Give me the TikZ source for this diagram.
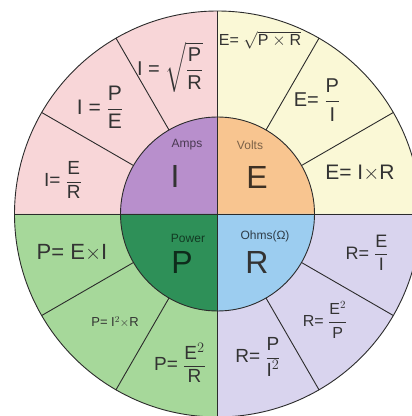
\documentclass[tikz,border=0pt]{standalone}
\usepackage{amsmath}
\usepackage{fontspec}
\setmainfont{Liberation Sans}
\usetikzlibrary{calc}
\definecolor{ampsout}{HTML}{F8D6D8}
\definecolor{ampsin}{HTML}{B88FCC}
\definecolor{voltsout}{HTML}{FAF8D6}
\definecolor{voltsin}{HTML}{F8C590}
\definecolor{powerout}{HTML}{A6D89A}
\definecolor{powerin}{HTML}{2E9058}
\definecolor{ohmsout}{HTML}{D9D4EE}
\definecolor{ohmsin}{HTML}{9CCDF0}
\definecolor{rim}{HTML}{2B2B2B}
\definecolor{ink}{HTML}{333333}
\newcommand{\ohmfrac}[2]{$\dfrac{\text{#1}}{\text{#2}}$}
\tikzset{
  big/.style={font=\fontsize{32}{34}\selectfont, text=ink},
  unitlabel/.style={font=\fontsize{12}{13}\selectfont},
  formula/.style={font=\fontsize{#1}{#1}\selectfont, text=ink, inner sep=0pt}
}

\begin{document}
\begin{tikzpicture}[x=1pt,y=1pt]
\useasboundingbox (0,0) rectangle (412,416);
\fill[white] (0,0) rectangle (412,416);
\coordinate (O) at (217.5,202);
% outer quarters
\fill[ampsout] (O) -- ++(180:203pt) arc[start angle=180,end angle=90,radius=203pt] -- cycle;
\fill[voltsout] (O) -- ++(90:203pt) arc[start angle=90,end angle=0,radius=203pt] -- cycle;
\fill[powerout] (O) -- ++(270:203pt) arc[start angle=270,end angle=180,radius=203pt] -- cycle;
\fill[ohmsout] (O) -- ++(0:203pt) arc[start angle=0,end angle=-90,radius=203pt] -- cycle;
% inner quarters
\fill[ampsin] (O) -- ++(180:97pt) arc[start angle=180,end angle=90,radius=97pt] -- cycle;
\fill[voltsin] (O) -- ++(90:97pt) arc[start angle=90,end angle=0,radius=97pt] -- cycle;
\fill[powerin] (O) -- ++(270:97pt) arc[start angle=270,end angle=180,radius=97pt] -- cycle;
\fill[ohmsin] (O) -- ++(0:97pt) arc[start angle=0,end angle=-90,radius=97pt] -- cycle;
% dividers
\foreach \a in {30,60,120,150,210,240,300,330}
  \draw[rim, line width=0.9pt] ($(O)+(\a:97pt)$) -- ($(O)+(\a:203pt)$);
\draw[rim, line width=0.9pt] ($(O)+(-203pt,0)$) -- ($(O)+(203pt,0)$);
\draw[rim, line width=0.9pt] ($(O)+(0,-203pt)$) -- ($(O)+(0,203pt)$);
\draw[rim, line width=0.9pt] (O) circle[radius=97pt];
\draw[rim, line width=0.9pt] (O) circle[radius=203pt];
% centre
\node[unitlabel, text=ampsin!40!black] (amps) at (187,271) {Amps};
\node[big] (bigI) at (175,240) {I};
\node[unitlabel, text=voltsin!50!black] (volts) at (250,271) {Volts};
\node[big, text=voltsin!25!black] (bigE) at (257,239) {E};
\node[unitlabel, text=powerin!40!black] (power) at (188,178) {Power};
\node[big, text=powerin!30!black] (bigP) at (182,154) {P};
\node[unitlabel, text=ohmsin!30!black] (ohms) at (265,180) {Ohms(Ω)};
\node[big] (bigR) at (257,154) {R};
% amps
\node[formula=20] (iPR) at (170,349) {I = $\sqrt{\dfrac{\text{P}}{\text{R}}}$};
\node[formula=21] (iPE) at (100,309) {I = \ohmfrac{P}{E}};
\node[formula=19] (iER) at (63,236) {I= \ohmfrac{E}{R}};
% volts
\node[formula=16] (ePR) at (260,376) {E= $\sqrt{\text{P}\times\text{R}}$};
\node[formula=20] (ePI) at (317,316) {E= \ohmfrac{P}{I}};
\node[formula=21] (eIR) at (360,243) {E= I$\times$R};
% power
\node[formula=22] (pEI) at (72,163) {P= E$\times$I};
\node[formula=13] (pIR) at (115,94) {P= I$^2\times$R};
\node[formula=19] (pER) at (180,53) {P= \ohmfrac{E$^2$}{R}};
% ohms
\node[formula=18] (rEI) at (367,163) {R= \ohmfrac{E}{I}};
\node[formula=16] (rEP) at (325,96) {R= \ohmfrac{E$^2$}{P}};
\node[formula=19] (rPI) at (258,59) {R= \ohmfrac{P}{I$^2$}};
\end{tikzpicture}
\end{document}
